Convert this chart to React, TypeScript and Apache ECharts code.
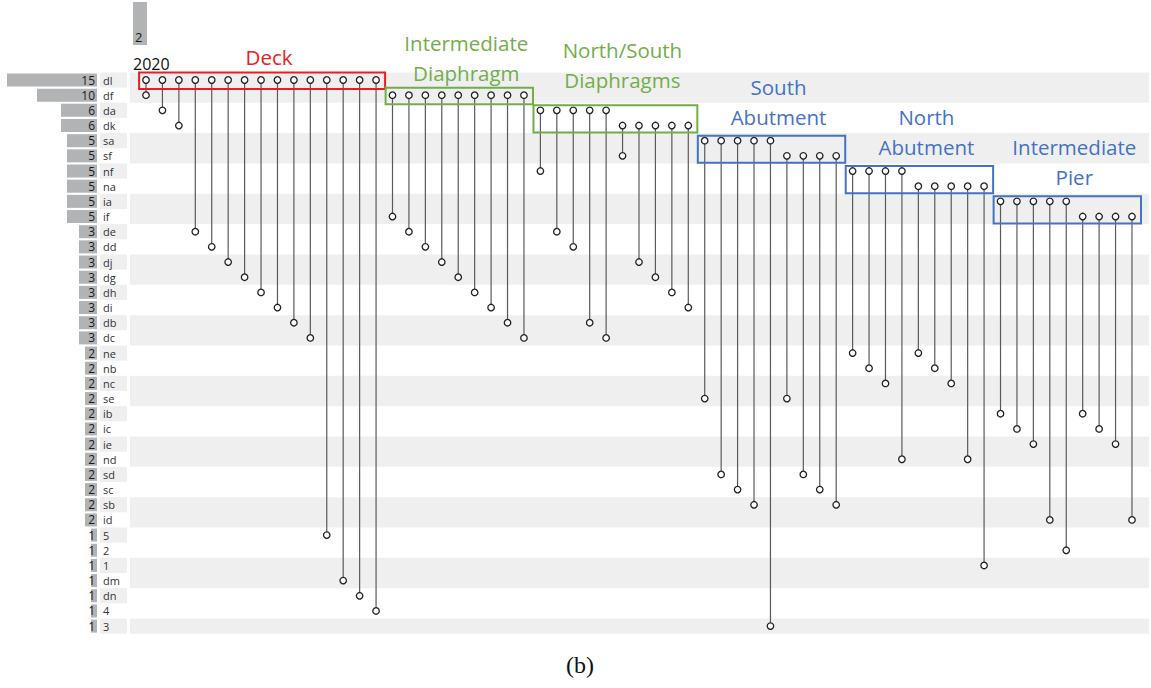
import React, { useEffect, useRef } from "react";
import * as echarts from "echarts";

// ---------- data ----------
const setNames = [
  "dl", "df", "da", "dk", "sa", "sf", "nf", "na", "ia", "if",
  "de", "dd", "dj", "dg", "dh", "di", "db", "dc",
  "ne", "nb", "nc", "se", "ib", "ic", "ie", "nd", "sd", "sc", "sb", "id",
  "5", "2", "1", "dm", "dn", "4", "3",
];
const setSizes = [
  15, 10, 6, 6, 5, 5, 5, 5, 5, 5,
  3, 3, 3, 3, 3, 3, 3, 3,
  2, 2, 2, 2, 2, 2, 2, 2, 2, 2, 2, 2,
  1, 1, 1, 1, 1, 1, 1,
];

// each column of the matrix: the two sets it joins
const deckCols = [
  ["dl", "df"], ["dl", "da"], ["dl", "dk"], ["dl", "de"], ["dl", "dd"], ["dl", "dj"], ["dl", "dg"],
  ["dl", "dh"], ["dl", "di"], ["dl", "db"], ["dl", "dc"], ["dl", "5"], ["dl", "dm"], ["dl", "dn"], ["dl", "4"],
];
const intermediateDiaphragmCols = [
  ["df", "if"], ["df", "de"], ["df", "dd"], ["df", "dj"], ["df", "dg"], ["df", "dh"], ["df", "di"], ["df", "db"], ["df", "dc"],
];
const nsDiaphragmCols = [
  ["da", "nf"], ["da", "de"], ["da", "dd"], ["da", "db"], ["da", "dc"],
  ["dk", "sf"], ["dk", "dj"], ["dk", "dg"], ["dk", "dh"], ["dk", "di"],
];
const southAbutmentCols = [
  ["sa", "se"], ["sa", "sd"], ["sa", "sc"], ["sa", "sb"], ["sa", "3"],
  ["sf", "se"], ["sf", "sd"], ["sf", "sc"], ["sf", "sb"],
];
const northAbutmentCols = [
  ["nf", "ne"], ["nf", "nb"], ["nf", "nc"], ["nf", "nd"],
  ["na", "ne"], ["na", "nb"], ["na", "nc"], ["na", "nd"], ["na", "1"],
];
const intermediatePierCols = [
  ["ia", "ib"], ["ia", "ic"], ["ia", "ie"], ["ia", "id"], ["ia", "2"],
  ["if", "ib"], ["if", "ic"], ["if", "ie"], ["if", "id"],
];

// intersection size bar shown above the matrix (only the first column is shown)
const intersectionSizes = [2];
const yearLabel = "2020";
const caption = "(b)";

const groupLabels = [
  "Deck",
  "Intermediate\nDiaphragm",
  "North/South\nDiaphragms",
  "South\nAbutment",
  "North\nAbutment",
  "Intermediate\nPier",
];
const groupColumns = [
  deckCols, intermediateDiaphragmCols, nsDiaphragmCols,
  southAbutmentCols, northAbutmentCols, intermediatePierCols,
];
const groupColors = ["#ec1c24", "#72ae48", "#72ae48", "#4472c4", "#4472c4", "#4472c4"];
// layout: vertical offset of label bottom relative to box top (px)
const groupLabelGap = [-1, 0, -10, -4, -4, -4];

// ---------- layout ----------
const MATRIX_LEFT = 130;
const MATRIX_WIDTH = 1019;
const COL_STEP = 16.433;
const FIRST_COL_X = 146;
const ROW_STEP = 15.17;
const FIRST_ROW_Y = 80;

export default function App() {
  const ref = useRef<HTMLDivElement>(null);

  useEffect(() => {
    document.body.style.margin = "0";
    if (!ref.current) return;
    const chart = echarts.init(ref.current, undefined, { renderer: "svg" });

    const allCols: string[][] = ([] as string[][]).concat(...groupColumns);
    const rowIdx = (n: string) => setNames.indexOf(n);

    const xMin = -(FIRST_COL_X - MATRIX_LEFT) / COL_STEP;
    const xMax = xMin + MATRIX_WIDTH / COL_STEP;
    const gridTop = FIRST_ROW_Y - ROW_STEP / 2;
    const gridHeight = ROW_STEP * setNames.length;

    const lineData = allCols.map((c, i) => [i, rowIdx(c[0]), rowIdx(c[1])]);
    const dotData: number[][] = [];
    allCols.forEach((c, i) => {
      dotData.push([i, rowIdx(c[0])]);
      dotData.push([i, rowIdx(c[1])]);
    });

    const labelFont = '"Open Sans", sans-serif';

    const catY = (gridIndex: number, extra: any = {}) => ({
      type: "category",
      gridIndex,
      data: setNames,
      inverse: true,
      axisLine: { show: false },
      axisTick: { show: false },
      axisLabel: { show: false },
      splitLine: { show: false },
      ...extra,
    });
    const hiddenX = (gridIndex: number, extra: any = {}) => ({
      type: "value",
      gridIndex,
      show: false,
      splitLine: { show: false },
      ...extra,
    });

    const option: any = {
      animation: false,
      grid: [
        { left: 7, top: gridTop, width: 90, height: gridHeight, outerBoundsMode: "none" },
        { left: 100, top: gridTop, width: 27, height: gridHeight, outerBoundsMode: "none" },
        { left: MATRIX_LEFT, top: gridTop, width: MATRIX_WIDTH, height: gridHeight, outerBoundsMode: "none" },
        { left: MATRIX_LEFT - 6, top: 2, width: MATRIX_WIDTH, height: 43, outerBoundsMode: "none" },
      ],
      xAxis: [
        hiddenX(0, { inverse: true, min: 0, max: 15 }),
        hiddenX(1, { min: 0, max: 1 }),
        hiddenX(2, { min: xMin, max: xMax }),
        hiddenX(3, { min: xMin, max: xMax }),
      ],
      yAxis: [
        catY(0),
        catY(1, {
          axisLabel: {
            show: true,
            inside: true,
            margin: 3,
            fontSize: 11,
            color: "#333333",
            fontFamily: labelFont,
          },
          splitArea: { show: true, areaStyle: { color: ["#efefef", "rgba(255,255,255,0)"] } },
        }),
        catY(2, {
          splitArea: { show: true, areaStyle: { color: ["#efefef", "rgba(255,255,255,0)"] } },
        }),
        { type: "value", gridIndex: 3, show: false, min: 0, max: 2, splitLine: { show: false } },
      ],
      series: [
        {
          type: "bar",
          xAxisIndex: 0,
          yAxisIndex: 0,
          data: setSizes,
          barWidth: 13,
          itemStyle: { color: "#b1b3b5" },
          label: {
            show: true,
            position: "insideRight",
            distance: 2,
            fontSize: 12,
            color: "#1a1a1a",
            fontFamily: labelFont,
          },
        },
        {
          type: "custom",
          xAxisIndex: 2,
          yAxisIndex: 2,
          data: lineData,
          encode: { x: 0, y: [1, 2] },
          z: 2,
          renderItem: (params: any, api: any) => {
            const p1 = api.coord([api.value(0), api.value(1)]);
            const p2 = api.coord([api.value(0), api.value(2)]);
            return {
              type: "line",
              shape: { x1: p1[0], y1: p1[1], x2: p2[0], y2: p2[1] },
              style: { stroke: "#5a5a5a", lineWidth: 1.2 },
            };
          },
        },
        {
          type: "scatter",
          xAxisIndex: 2,
          yAxisIndex: 2,
          data: dotData,
          symbol: "circle",
          symbolSize: 6.5,
          z: 3,
          itemStyle: { color: "#ffffff", borderColor: "#222", borderWidth: 1.3, opacity: 1 },
        },
        {
          type: "bar",
          xAxisIndex: 3,
          yAxisIndex: 3,
          data: intersectionSizes.map((v, i) => [i, v]),
          barWidth: 14,
          itemStyle: { color: "#b1b3b5" },
          label: {
            show: true,
            position: "insideBottomLeft",
            distance: 2,
            fontSize: 13,
            color: "#1a1a1a",
            fontFamily: labelFont,
            formatter: (p: any) => String(p.value[1]),
          },
        },
      ],
    };

    chart.setOption(option);

    // annotation boxes computed from the matrix scales
    const graphics: any[] = [];
    let colStart = 0;
    groupColumns.forEach((cols, g) => {
      const colEnd = colStart + cols.length - 1;
      const rows = cols.map((c) => rowIdx(c[0]));
      const rMin = Math.min(...rows);
      const rMax = Math.max(...rows);
      const pA = chart.convertToPixel({ gridIndex: 2 } as any, [colStart - 0.42, rMin]) as number[];
      const pB = chart.convertToPixel({ gridIndex: 2 } as any, [colEnd + 0.55, rMax]) as number[];
      const top = pA[1] - (rMin === rMax ? 7.5 : 5);
      const bottom = pB[1] + (rMin === rMax ? 9 : 7);
      const left = pA[0];
      const right = pB[0];
      graphics.push({
        type: "rect",
        shape: { x: left, y: top, width: right - left, height: bottom - top },
        style: { fill: "none", stroke: groupColors[g], lineWidth: 2 },
        z: 10,
      });
      graphics.push({
        type: "text",
        x: (left + right) / 2 + 7,
        y: top + groupLabelGap[g],
        style: {
          text: groupLabels[g],
          align: "center",
          verticalAlign: "bottom",
          fontSize: 20.5,
          lineHeight: 30,
          fontFamily: labelFont,
          fill: groupColors[g],
        },
        z: 10,
      });
      colStart = colEnd + 1;
    });
    graphics.push({
      type: "text",
      x: 133,
      y: 64,
      style: {
        text: yearLabel,
        align: "left",
        verticalAlign: "middle",
        fontSize: 16,
        fontFamily: labelFont,
        fill: "#111",
      },
    });
    graphics.push({
      type: "text",
      x: 580,
      y: 665,
      style: {
        text: caption,
        align: "center",
        verticalAlign: "middle",
        fontSize: 24,
        fontFamily: '"Liberation Serif", "DejaVu Serif", serif',
        fill: "#111",
      },
    });
    chart.setOption({ graphic: graphics });

    return () => chart.dispose();
  }, []);

  return <div ref={ref} style={{ width: 1151, height: 688 }} />;
}
